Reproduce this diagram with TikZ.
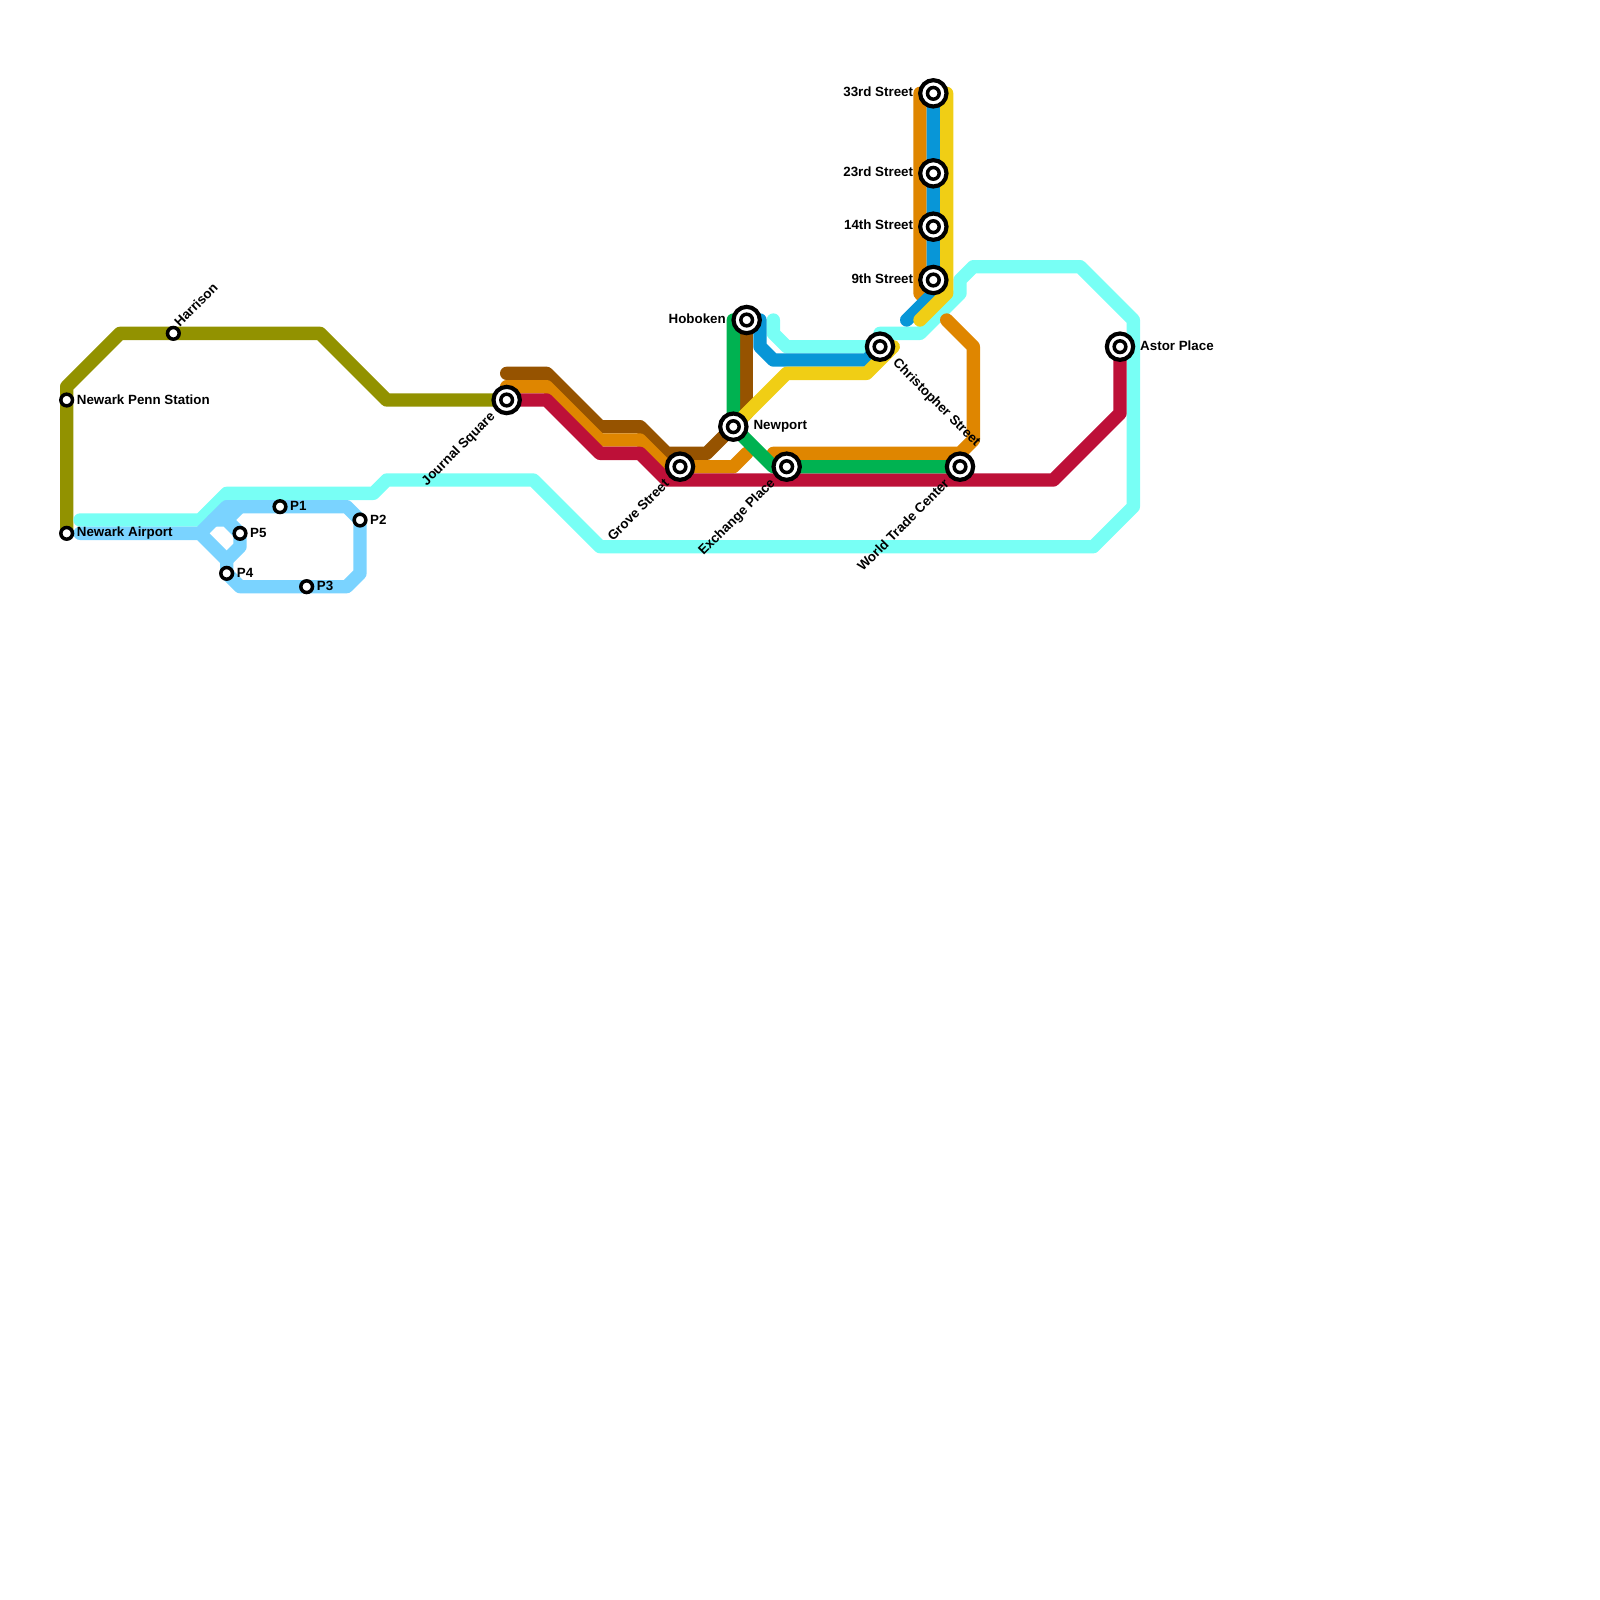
\documentclass[tikz,border=0pt]{standalone}
\usepackage{fontspec}
\setsansfont{Liberation Sans}
\usetikzlibrary{backgrounds}

\definecolor{pathcyan}{HTML}{78FFF5}
\definecolor{airblue}{HTML}{7AD3FF}
\definecolor{olive}{HTML}{929200}
\definecolor{brownline}{HTML}{965300}
\definecolor{orangeline}{HTML}{DF8600}
\definecolor{redline}{HTML}{BD1038}
\definecolor{greenline}{HTML}{00B251}
\definecolor{yellowline}{HTML}{F0CE15}
\definecolor{blueline}{HTML}{0896D7}

\begin{document}
\begin{tikzpicture}[
  x=0.4cm, y=-0.4cm,
  metro/.style={line width=0.4cm, line cap=round, line join=round},
  station/.style={circle, draw=black, fill=white, line width=0.105cm, minimum size=0.35cm, inner sep=0pt, outer sep=0pt},
  hub/.style={circle, draw=black, fill=white, line width=0.125cm, minimum size=0.79cm, inner sep=0pt, outer sep=0pt},
  lab/.style={font=\sffamily\bfseries\fontsize{11.4pt}{13pt}\selectfont, inner sep=0pt, text=black}]

    \useasboundingbox (0,0) rectangle (120,120);

    \node[station] at (5, 30) (penn) {};
    \node[station] at (5, 40) (airport) {};
    \node[station] at (13, 25) (harrison) {};
    \node[station] at (21, 38) (pa) {};
    \node[station] at (27, 39) (pb) {};
    \node[station] at (23, 44) (pc) {};
    \node[station] at (17, 43) (pd) {};
    \node[station] at (18, 40) (pe) {};

    \node[hub] at (38, 30) (journal) {};
    \node[hub] at (51, 35) (grove) {};
    \node[hub] at (55, 32) (newport) {};
    \node[hub] at (56, 24) (hoboken) {};
    \node[hub] at (59, 35) (exchange) {};
    \node[hub] at (66, 26) (christopher) {};
    \node[hub] at (72, 35) (wtc) {};
    \node[hub] at (70, 7) (third) {};
    \node[hub] at (70, 13) (twentythird) {};
    \node[hub] at (70, 17) (fourteenth) {};
    \node[hub] at (70, 21) (ninth) {};
    \node[hub] at (84, 26) (astor) {};

    \foreach \s in {journal, grove, newport, hoboken, exchange, christopher, wtc, third, twentythird, fourteenth, ninth, astor}
        \node[station] at (\s) (\s-in) {};

    \begin{scope}[on background layer]
    \draw[metro, olive] (airport.center) -- (penn.center) -- (5, 29) -- (9, 25) -- (harrison.center) -- (24, 25) -- (29, 30) -- (journal.center);

    \draw[metro, orangeline] (69, 7) -- (69, 22) -- (70, 23);

    \draw[metro, pathcyan] (58, 24) -- (58, 25) -- (59, 26) -- (christopher.center) -- (66, 25) -- (69, 25) -- (72, 22) -- (72, 21) -- (73, 20) -- (81, 20) -- (85, 24) -- (85, 38) -- (82, 41) -- (45, 41) -- (40, 36) -- (29, 36) -- (28, 37) -- (17, 37) -- (15, 39) -- (6, 39);

    \draw[metro, airblue] (6, 40) -- (15, 40) -- (17, 38) -- (pa.center) -- (26, 38) -- (pb.center) -- (27, 43) -- (26, 44) -- (pc.center) -- (18, 44) -- (pd.center) -- (17, 42) -- (15, 40);
    \draw[metro, airblue] (16, 39) -- (17, 39) -- (pe.center) -- (18, 41) -- (17, 42);
    \draw[metro, airblue] (18, 38) -- (17, 39);

    \draw[metro, brownline] (38, 28) -- (41, 28) -- (45, 32) -- (48, 32) -- (50, 34) -- (53, 34) -- (newport.center) -- (56, 31) -- (56, 30);
    \draw[metro, brownline] (56, 30) -- (hoboken.center);

    \draw[metro, orangeline] (38, 29) -- (41, 29) -- (45, 33) -- (48, 33) -- (50, 35) -- (grove.center) -- (55, 35) -- (56, 34);
    \draw[metro, orangeline] (71, 24) -- (73, 26) -- (73, 33) -- (72, 34) -- (58, 34);

    \draw[metro, redline] (journal.center) -- (41, 30) -- (45, 34) -- (48, 34) -- (50, 36) -- (79, 36) -- (84, 31) -- (astor.center);

    \draw[metro, greenline] (hoboken.center) -- (55, 24) -- (newport.center) -- (58, 35) -- (exchange.center) -- (wtc.center);

    \draw[metro, blueline] (third.center) -- (ninth.center) -- (70, 22) -- (68, 24);
    \draw[metro, blueline] (hoboken.center) -- (57, 24) -- (57, 26) -- (58, 27) -- (65, 27) -- (christopher.center);

    \draw[metro, yellowline] (71, 7) -- (71, 22) -- (69, 24);
    \draw[metro, yellowline] (newport.center) -- (59, 28) -- (65, 28) -- (67, 26) -- (christopher.center);
    \end{scope}

    \node[lab, anchor=west] at (5.75, 29.95) (pennlab) {Newark Penn Station};
    \node[lab, anchor=west] at (5.75, 39.95) (airportlab) {Newark Airport};
    \node[lab, anchor=south west, rotate=45] at (13.5, 24.6) (harrisonlab) {Harrison};
    \node[lab, anchor=west] at (21.75, 37.95) (palab) {P1};
    \node[lab, anchor=west] at (27.75, 38.95) (pblab) {P2};
    \node[lab, anchor=west] at (23.75, 43.95) (pclab) {P3};
    \node[lab, anchor=west] at (17.75, 42.95) (pdlab) {P4};
    \node[lab, anchor=west] at (18.75, 39.95) (pelab) {P5};

    \node[lab, anchor=east, rotate=45] at (37, 31.1) (journallab) {Journal Square};
    \node[lab, anchor=east, rotate=45] at (50, 36.1) (grovelab) {Grove Street};
    \node[lab, anchor=east, rotate=45] at (58, 36.1) (exchangelab) {Exchange Place};
    \node[lab, anchor=east, rotate=45] at (71, 36.1) (wtclab) {World Trade Center};
    \node[lab, anchor=west, rotate=-45] at (67.1, 27.1) (christopherlab) {Christopher Street};
    \node[lab, anchor=east] at (54.45, 23.88) (hobokenlab) {Hoboken};
    \node[lab, anchor=west] at (56.5, 31.95) (newportlab) {Newport};
    \node[lab, anchor=east] at (68.5, 6.88) (thirdlab) {33rd Street};
    \node[lab, anchor=east] at (68.5, 12.88) (twentythirdlab) {23rd Street};
    \node[lab, anchor=east] at (68.5, 16.88) (fourteenthlab) {14th Street};
    \node[lab, anchor=east] at (68.5, 20.88) (ninthlab) {9th Street};
    \node[lab, anchor=west] at (85.5, 25.95) (astorlab) {Astor Place};

\end{tikzpicture}
\end{document}
